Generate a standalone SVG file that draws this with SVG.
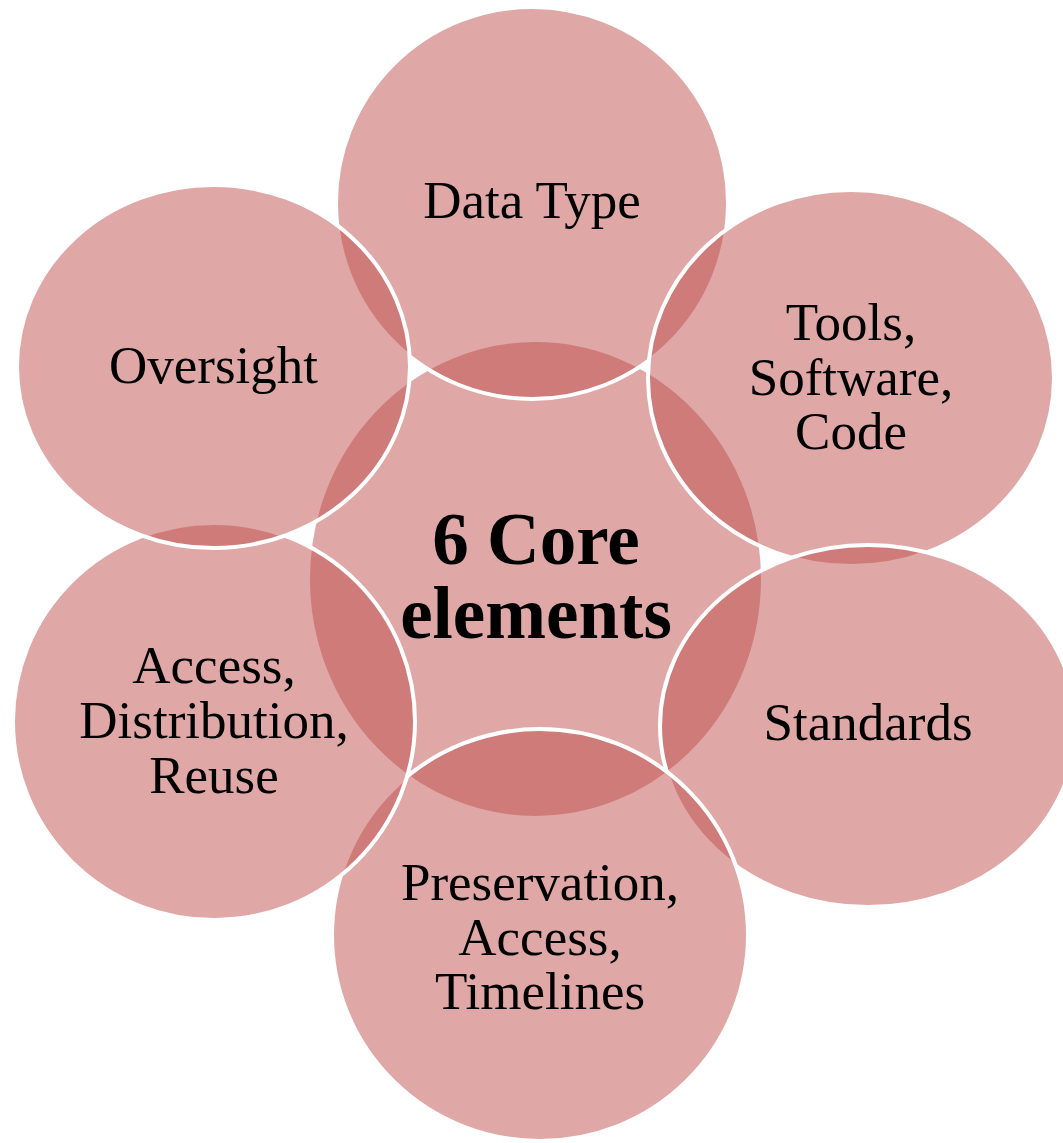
<svg xmlns="http://www.w3.org/2000/svg" width="1063" height="1143" viewBox="0 0 1063 1143">
<style>
.s{fill:#C0504D;fill-opacity:0.5;stroke:#FFFFFF;stroke-width:4}
.t{font-family:"Liberation Serif","Times New Roman",serif;font-size:53px;fill:#000;text-anchor:middle}
.c{font-family:"Liberation Serif","Times New Roman",serif;font-size:73px;font-weight:bold;fill:#000;text-anchor:middle}
</style>
<rect width="1063" height="1143" fill="#FFFFFF"/>
<g id="center">
<ellipse class="s" cx="535.5" cy="579" rx="227.5" ry="239"/>
<text class="c" x="536" y="564">6 Core</text>
<text class="c" x="536" y="638">elements</text>
</g>
<g id="data-type">
<ellipse class="s" cx="532" cy="203" rx="196" ry="196"/>
<text class="t" x="532" y="218">Data Type</text>
</g>
<g id="tools">
<ellipse class="s" cx="851" cy="378" rx="203" ry="188"/>
<text class="t" x="851" y="340">Tools,</text>
<text class="t" x="851" y="395">Software,</text>
<text class="t" x="851" y="449">Code</text>
</g>
<g id="standards">
<ellipse class="s" cx="868" cy="726" rx="208" ry="181"/>
<text class="t" x="868" y="740">Standards</text>
</g>
<g id="preservation">
<ellipse class="s" cx="540" cy="935" rx="208" ry="206"/>
<text class="t" x="540" y="900">Preservation,</text>
<text class="t" x="540" y="955">Access,</text>
<text class="t" x="540" y="1009">Timelines</text>
</g>
<g id="access">
<ellipse class="s" cx="214" cy="721.5" rx="201" ry="198.5"/>
<text class="t" x="214" y="683">Access,</text>
<text class="t" x="214" y="738">Distribution,</text>
<text class="t" x="214" y="793">Reuse</text>
</g>
<g id="oversight">
<ellipse class="s" cx="213.5" cy="366.5" rx="196.5" ry="181.5"/>
<text class="t" x="213.5" y="383">Oversight</text>
</g>
<g id="connectors"></g>
</svg>
